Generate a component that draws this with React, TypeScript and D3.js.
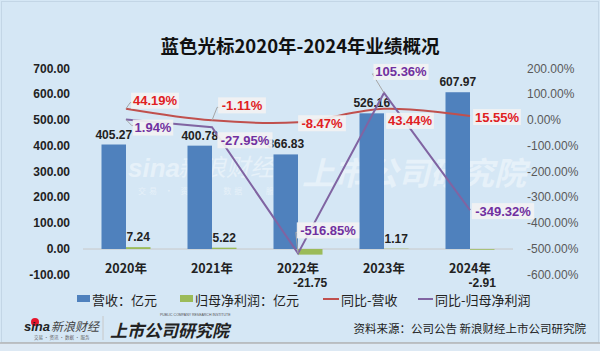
import * as d3 from 'd3';

const W = 600, H = 351;

const years = ['2020年', '2021年', '2022年', '2023年', '2024年'];
const revenue = [405.27, 400.78, 366.83, 526.16, 607.97];
const profit = [7.24, 5.22, -21.75, 1.17, -2.91];
const revGrowth = [44.19, -1.11, -8.47, 43.44, 15.55];
const profitGrowth = [1.94, -27.95, -516.85, 105.36, -349.32];
const leftTicks = [-100, 0, 100, 200, 300, 400, 500, 600, 700];
const rightTicks = [-600, -500, -400, -300, -200, -100, 0, 100, 200];

// label offsets (dx, dy) from the point, and whether a leader line is drawn
const revLabelPos = [[29, -8, true], [30, -15, true], [24, 1, false], [26, 12, false], [27, 1, false]];
const profitLabelPos = [[27, 8, true], [33, 13, false], [30, -23, true], [17, -21, true], [33, 1, false]];

const FONT = '"Liberation Sans", Arial, "Noto Sans CJK SC", sans-serif';
const CJK = '"Noto Sans CJK SC", "Liberation Sans", sans-serif';

const BLUE = '#4f81bd', GREEN = '#9bbb59', RED = '#c0504d', PURPLE = '#8064a2';

const x = d3.scaleBand().domain(years).range([83, 513]).paddingInner(0);
const yL = d3.scaleLinear().domain([-100, 700]).range([274.8, 68.5]);
const yR = d3.scaleLinear().domain([-600, 200]).range([274.8, 68.5]);
const cx = (i: number) => (x(years[i]) as number) + x.bandwidth() / 2;
const BW = 24.5;

const fmt = d3.formatLocale({ decimal: '.', thousands: ',', grouping: [3], currency: ['', ''], minus: '-' }).format('.2f');

const redLine = d3.line<number>().x((_, i) => cx(i)).y(d => yR(d)).curve(d3.curveCatmullRom.alpha(0.5));
const purpleLine = d3.line<number>().x((_, i) => cx(i)).y(d => yR(d));

function Label({ px, py, pos, text, color }: any) {
  const [dx, dy, leader] = pos;
  const tx = px + dx, ty = py + dy;
  const w = text.length * 7.3 + 4;
  return (
    <g>
      {leader && (
        <polyline
          points={`${px},${py} ${tx - w / 2 - 1},${ty + (dy < 0 ? 2 : -2)} ${tx - w / 2 + 2},${ty + (dy < 0 ? 2 : -2)}`}
          fill="none" stroke="#a6a6a6" strokeWidth={1} />
      )}
      <rect x={tx - w / 2} y={ty - 8} width={w} height={16} fill="#f2f2f2" opacity={0.92} />
      <text x={tx} y={ty} textAnchor="middle" dominantBaseline="central" fill={color}
        fontFamily={FONT} fontWeight="bold" fontSize={13}>{text}</text>
    </g>
  );
}

export default function App() {
  return (
    <svg width={W} height={H} style={{ position: 'absolute', left: 0, top: 0 }}>
      <rect x={0} y={0} width={W} height={H} fill="#d5e7f5" />
      <rect x={1.5} y={1.5} width={W - 3} height={341} fill="none" stroke="#c3d6e6" strokeWidth={1} />
      <line x1={0} x2={W} y1={343} y2={343} stroke="#b5b5b5" strokeWidth={1.5} />
      <rect x={0} y={344} width={W} height={7} fill="#dde9f4" />

      <text x={300} y={45} textAnchor="middle" dominantBaseline="central" fontFamily={CJK}
        fontWeight="bold" fontSize={18.5} fill="#111">蓝色光标2020年-2024年业绩概况</text>

      {/* watermark */}
      <g fill="#ffffff" opacity={0.42} fontFamily={CJK}>
        <text x={128} y={177} fontSize={26} fontStyle="italic" fontWeight="bold" fontFamily={FONT}>sina</text>
        <text x={178} y={176} fontSize={24} fontStyle="italic">新浪财经</text>
        <text x={138} y={194} fontSize={8} letterSpacing={3}>交易 · 资讯 · 数据 · 服务</text>
        <text x={302} y={185} fontSize={32} fontStyle="italic" fontWeight="bold">上市公司研究院</text>
      </g>

      {/* axes labels */}
      {leftTicks.map(t => (
        <text key={t} x={70} y={yL(t)} textAnchor="end" dominantBaseline="central" fontFamily={FONT}
          fontWeight="bold" fontSize={12} fill="#222">{fmt(t)}</text>
      ))}
      {rightTicks.map(t => (
        <text key={t} x={527} y={yR(t)} textAnchor="start" dominantBaseline="central" fontFamily={FONT}
          fontSize={12} fill="#595959">{fmt(t)}%</text>
      ))}
      <line x1={83} x2={513} y1={yL(0)} y2={yL(0)} stroke="#c8c8c8" strokeWidth={1} />

      {/* bars */}
      {revenue.map((v, i) => (
        <rect key={'r' + i} x={cx(i) - BW} y={yL(v)} width={BW} height={yL(0) - yL(v)} fill={BLUE} />
      ))}
      {profit.map((v, i) => (
        <rect key={'p' + i} x={cx(i)} y={Math.min(yL(v), yL(0))} width={BW}
          height={Math.abs(yL(0) - yL(v))} fill={GREEN} />
      ))}
      {revenue.map((v, i) => (
        <text key={'rl' + i} x={cx(i) - BW / 2} y={yL(v) - 10} textAnchor="middle" dominantBaseline="central"
          fontFamily={FONT} fontWeight="bold" fontSize={12} fill="#222">{fmt(v)}</text>
      ))}
      {profit.map((v, i) => (
        <text key={'pl' + i} x={cx(i) + BW / 2} y={v >= 0 ? yL(v) - 10 : yL(-100) + 8.5} textAnchor="middle"
          dominantBaseline="central" fontFamily={FONT} fontWeight="bold" fontSize={12} fill="#222">{fmt(v)}</text>
      ))}

      {/* category labels */}
      {years.map((c, i) => (
        <text key={c} x={cx(i)} y={267} textAnchor="middle" dominantBaseline="central" fontFamily={CJK}
          fontWeight="bold" fontSize={12.5} fill="#222">{c}</text>
      ))}

      {/* lines */}
      <path d={redLine(revGrowth) as string} fill="none" stroke={RED} strokeWidth={2} />
      <path d={purpleLine(profitGrowth) as string} fill="none" stroke={PURPLE} strokeWidth={2} />

      {revGrowth.map((v, i) => (
        <Label key={'rg' + i} px={cx(i)} py={yR(v)} pos={revLabelPos[i]} text={fmt(v) + '%'} color="#e0201f" />
      ))}
      {profitGrowth.map((v, i) => (
        <Label key={'pg' + i} px={cx(i)} py={yR(v)} pos={profitLabelPos[i]} text={fmt(v) + '%'} color="#7030a0" />
      ))}

      {/* legend */}
      <g fontFamily={CJK} fontSize={13} fill="#222">
        <rect x={77} y={295} width={13} height={7} fill={BLUE} />
        <text x={92} y={299} dominantBaseline="central">营收：亿元</text>
        <rect x={180} y={295} width={13} height={7} fill={GREEN} />
        <text x={195} y={299} dominantBaseline="central">归母净利润：亿元</text>
        <line x1={323} x2={339} y1={299} y2={299} stroke={RED} strokeWidth={2} />
        <text x={341} y={299} dominantBaseline="central">同比-营收</text>
        <line x1={418} x2={433} y1={299} y2={299} stroke={PURPLE} strokeWidth={2} />
        <text x={435} y={299} dominantBaseline="central">同比-归母净利润</text>
      </g>

      {/* footer logos */}
      <g>
        <circle cx={35} cy={322} r={4} fill="#e6162d" />
        <text x={24} y={331} fontFamily={FONT} fontStyle="italic" fontWeight="bold" fontSize={13} fill="#222">sina</text>
        <text x={51} y={331} fontFamily={CJK} fontStyle="italic" fontSize={12} fill="#444">新浪财经</text>
        <text x={34} y={339} fontFamily={CJK} fontSize={4.5} fill="#666">交易 · 资讯 · 数据 · 服务</text>
        <line x1={103} x2={103} y1={316} y2={340} stroke="#c8c8c8" strokeWidth={1} />
        <text x={110} y={337} fontFamily={CJK} fontStyle="italic" fontWeight="bold" fontSize={17} fill="#222">上市公司研究院</text>
        <text x={160} y={316} fontFamily={FONT} fontSize={3.5} fill="#555">PUBLIC COMPANY RESEARCH INSTITUTE</text>
        <text x={586} y={328} textAnchor="end" dominantBaseline="central" fontFamily={CJK} fontSize={11.5}
          fill="#222">资料来源：公司公告 新浪财经上市公司研究院</text>
      </g>
    </svg>
  );
}
